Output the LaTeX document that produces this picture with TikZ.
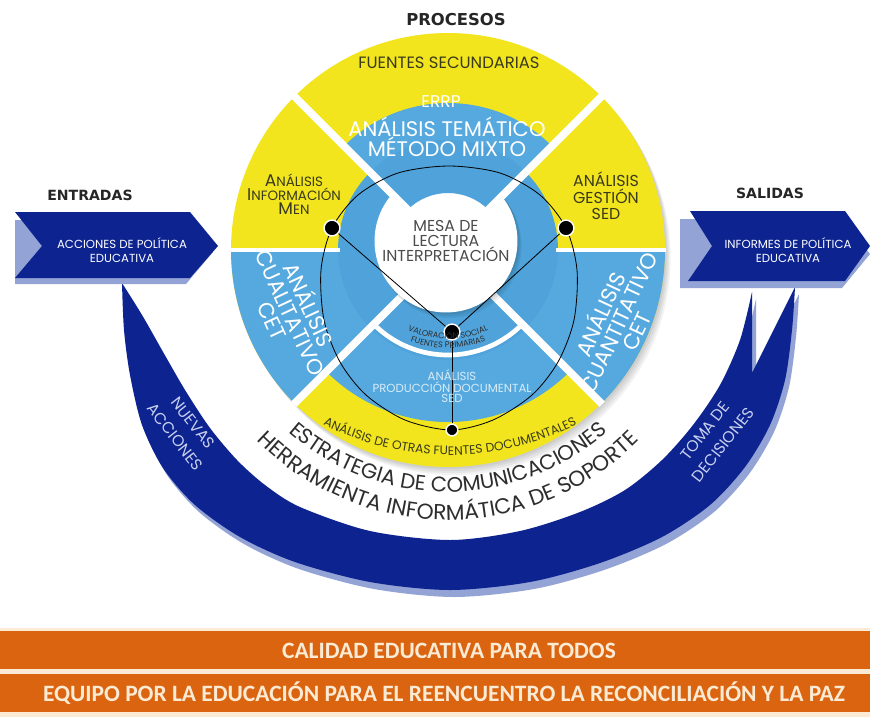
\documentclass[tikz,border=0pt]{standalone}
\usepackage{fontspec}
\setmainfont{Poppins}
\newfontfamily\headfont{DejaVu Sans}
\newfontfamily\barfont{Carlito}
\usepackage{tikz}
\usetikzlibrary{decorations.text}

\definecolor{discyellow}{HTML}{F2E51E}
\definecolor{discblue}{HTML}{56A9DE}
\definecolor{ringblue}{HTML}{4FA3DA}
\definecolor{navy}{HTML}{0C2390}
\definecolor{navyshade}{HTML}{93A3D5}
\definecolor{lavender}{HTML}{C8D0EE}
\definecolor{barorange}{HTML}{DB6410}
\definecolor{barcream}{HTML}{FCEBD4}
\definecolor{ink}{HTML}{2E2E2E}
\definecolor{olive}{HTML}{3A3A1C}
\definecolor{paleblue}{HTML}{D6ECF8}

\newcommand{\capword}[2]{{\fontsize{14.5}{14}\selectfont #1}{\fontsize{11.5}{14}\selectfont #2}}

\begin{document}
\begin{tikzpicture}[x=0.03cm, y=0.03cm,
    heading/.style={font=\headfont\bfseries\fontsize{13}{15}\selectfont, text=black!85, inner sep=0pt},
    chevtext/.style={font=\fontsize{10}{12.5}\selectfont, text=white, align=center, inner sep=0pt},
    arctext/.style={font=\fontsize{13.5}{19.5}\selectfont, text=lavender, align=center, inner sep=0pt},
    yellowtext/.style={text=olive, align=center, inner sep=0pt},
    bluetext/.style={text=white, align=center, inner sep=0pt},
    bartext/.style={font=\barfont\bfseries\fontsize{20}{22}\selectfont, text=barcream, inner sep=0pt},
    stripe/.style={white, line width=6.5pt},
    thinstripe/.style={white, line width=4pt},
    link/.style={black, line width=0.7pt},
    dot/.style={circle, fill=black, draw=white, line width=1.2pt, minimum size=13.5pt, inner sep=0pt},
    smalldot/.style={dot, minimum size=10pt},
    hub/.style={circle, fill=white, minimum size=122pt, inner sep=0pt, align=center, text=black!70, font=\fontsize{13.5}{13}\selectfont}
  ]
  \useasboundingbox[fill=white] (0,0) rectangle (870,-717);

  % Crescent: nuevas acciones / toma de decisiones
  \foreach \dx/\dy/\col in {4/-7/navyshade, 0/0/navy}
    \fill[\col, shift={(\dx,\dy)}]
      plot[smooth] coordinates {(122,-283) (124,-330) (130,-375) (142,-425) (163,-468) (195,-505) (240,-537) (295,-562) (370,-582) (450,-590) (530,-582) (600,-563) (662,-537) (710,-505) (745,-467) (770,-425) (785,-380) (792,-330) (795,-287)}
      -- (752,-373)
      -- plot[smooth] coordinates {(752,-292) (740,-340) (720,-385) (693,-425) (662,-460) (625,-490) (580,-512) (520,-531) (450,-540) (370,-531) (300,-507) (265,-485) (237,-460) (210,-428) (185,-390) (163,-352) (142,-315) (122,-283)}
      -- cycle;
  \node[arctext, rotate=-52] (nuevas) at (184,-430) {NUEVAS\\ACCIONES};
  \node[arctext, rotate=52] (toma) at (714,-438) {TOMA DE\\DECISIONES};

  % Entradas / salidas
  \fill[navyshade] (15,-220) -- (186,-220) -- (213,-252) -- (186,-284) -- (15,-284) -- cycle;
  \fill[navy] (15,-212) -- (190,-212) -- (218,-246) -- (190,-278) -- (15,-278) -- (42,-246) -- cycle;
  \fill[navyshade] (680,-219) -- (842,-219) -- (870,-254) -- (842,-288) -- (680,-288) -- cycle;
  \fill[navy] (690,-211) -- (845,-211) -- (870,-246) -- (845,-281) -- (688,-281) -- (712,-246) -- cycle;
  \node[heading, font=\headfont\bfseries\fontsize{12}{14}\selectfont] (entradas) at (90,-195) {ENTRADAS};
  \node[heading, font=\headfont\bfseries\fontsize{12}{14}\selectfont] (salidas) at (770,-193) {SALIDAS};
  \node[chevtext] (acciones) at (122,-250) {ACCIONES DE POLÍTICA\\EDUCATIVA};
  \node[chevtext] (informes) at (788,-250) {INFORMES DE POLÍTICA\\EDUCATIVA};

  % Disc with quadrants
  \foreach \s in {2,4,6,8}
    \fill[black, opacity=0.05] (448+\s*0.7,-250-\s) circle[radius=217];
  \begin{scope}[shift={(448,-250)}]
    \fill[discyellow] (0,0) circle[radius=217];
    \fill[discblue] (0,0) -- (45:147) arc[start angle=45, end angle=135, radius=147] -- cycle;
    \fill[discblue] (0,0) -- (180:217) arc[start angle=180, end angle=225, radius=217] -- cycle;
    \fill[discblue] (0,0) -- (315:217) arc[start angle=315, end angle=360, radius=217] -- cycle;
    \fill[discblue] (0,0) -- (225:172) arc[start angle=225, end angle=315, radius=172] -- cycle;
    \fill[ringblue] (0,0) circle[radius=110];
    \draw[thinstripe] (225:105) arc[start angle=225, end angle=315, radius=105];
    \foreach \a in {225,315}
      \draw[stripe] (\a:60) -- (\a:218);
    \foreach \a in {0,180}
      \draw[thinstripe] (\a:108) -- (\a:218);
  \end{scope}

  % Centre
  \foreach \s in {2,4,6}
    \fill[black, opacity=0.06] (446+\s*0.6,-240-\s) circle[radius=72];
  \node[hub] (mesa) at (446,-241) {MESA DE\\LECTURA\\INTERPRETACIÓN};
  \begin{scope}[shift={(448,-250)}]
    \fill[ringblue] (45:57) -- (45:110) arc[start angle=45, end angle=135, radius=110]
      -- (135:57) arc[start angle=135, end angle=45, radius=57] -- cycle;
    \foreach \a in {45,135}
      \draw[stripe] (\a:56) -- (\a:218);
  \end{scope}

  % Links
  \draw[link] plot[smooth cycle] coordinates {(449,-166) (398,-173) (358,-195) (332,-228) (321,-270) (324,-320) (340,-362) (366,-395) (405,-420) (451,-430) (493,-420) (532,-395) (558,-362) (574,-320) (577,-270) (566,-228) (540,-195) (500,-173)};
  \node[dot] (dotL) at (332,-228) {};
  \node[dot] (dotR) at (566,-228) {};
  \node[dot] (dotM) at (452,-332) {};
  \node[smalldot] (dotB) at (452,-430) {};
  \draw[link] (dotL) -- (dotM);
  \draw[link] (dotR) -- (dotM);
  \draw[link] (dotM) -- (dotB);

  % Labels
  \node[heading, font=\headfont\bfseries\fontsize{14}{16}\selectfont] (procesos) at (456,-20) {PROCESOS};
  \node[yellowtext, font=\fontsize{14}{15}\selectfont] (secundarias) at (449,-63) {FUENTES SECUNDARIAS};
  \node[bluetext, font=\fontsize{14.5}{15}\selectfont] (errp) at (441,-102) {ERRP};
  \node[bluetext, font=\fontsize{18}{17.5}\selectfont] (tematico) at (447,-137) {ANÁLISIS TEMÁTICO\\MÉTODO MIXTO};
  \node[yellowtext] (men) at (294,-194) {\capword{A}{NÁLISIS}\\\capword{I}{NFORMACIÓN}\\\capword{M}{EN}};
  \node[yellowtext, font=\fontsize{13.5}{14}\selectfont] (gestion) at (606,-196) {ANÁLISIS\\GESTIÓN\\SED};
  \node[bluetext, rotate=-65, font=\fontsize{18.5}{17}\selectfont] (cualitativo) at (292,-312) {ANÁLISIS\\CUALITATIVO\\CET};
  \node[bluetext, rotate=65, font=\fontsize{18.5}{17}\selectfont] (cuantitativo) at (617,-322) {ANÁLISIS\\CUANTITATIVO\\CET};
  \node[bluetext, text=paleblue, font=\fontsize{10}{9}\selectfont] (produccion) at (452,-386) {ANÁLISIS\\PRODUCCIÓN DOCUMENTAL\\SED};
  \path[decorate, decoration={text along path, text align=center,
      text={|\fontsize{7}{7}\selectfont\color{ink}|VALORACIÓN SOCIAL}}]
    ([shift={(235:99)}]448,-240) arc[start angle=235, end angle=305, radius=99];
  \path[decorate, decoration={text along path, text align=center,
      text={|\fontsize{7}{7}\selectfont\color{ink}|FUENTES PRIMARIAS}}]
    ([shift={(235:108)}]448,-240) arc[start angle=235, end angle=305, radius=108];
  \path[decorate, decoration={text along path, text align=center,
      text={|\fontsize{10.5}{11}\selectfont\color{olive}|ANÁLISIS DE OTRAS FUENTES DOCUMENTALES}}]
    ([shift={(238:278)}]450,-177) arc[start angle=238, end angle=302, radius=278];
  \path[decorate, decoration={text along path, text align=center,
      text={|\fontsize{18}{18}\selectfont\color{ink}|ESTRATEGIA DE COMUNICACIONES}}]
    ([shift={(200:242)}]448,-250) arc[start angle=200, end angle=340, radius=242];
  \path[decorate, decoration={text along path, text align=center,
      text={|\fontsize{18.5}{19}\selectfont\color{ink}|HERRAMIENTA INFORMÁTICA DE SOPORTE}}]
    ([shift={(200:270)}]448,-250) arc[start angle=200, end angle=340, radius=270];

  % Bottom bars
  \fill[barcream] (0,-628) rectangle (870,-717);
  \fill[barorange] (0,-631) rectangle (870,-669);
  \fill[barorange] (0,-674) rectangle (870,-712);
  \node[bartext] (lema) at (449,-651) {CALIDAD EDUCATIVA PARA TODOS};
  \node[bartext] (equipo) at (444,-693) {EQUIPO POR LA EDUCACIÓN PARA EL REENCUENTRO LA RECONCILIACIÓN Y LA PAZ};
\end{tikzpicture}
\end{document}
